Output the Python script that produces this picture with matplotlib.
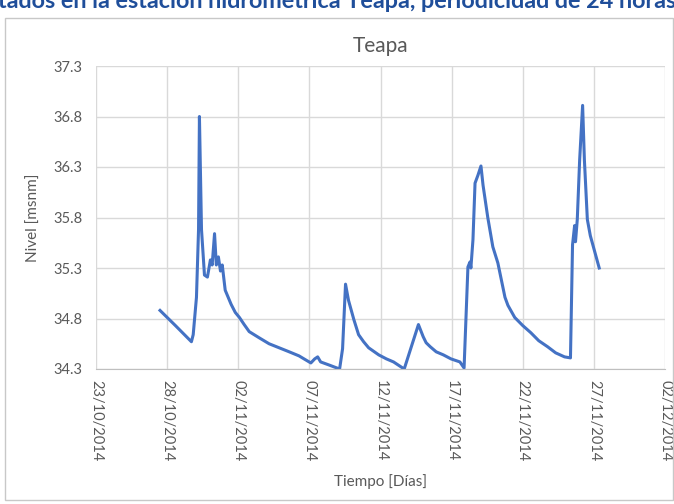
import matplotlib
matplotlib.use("Agg")
import matplotlib.pyplot as plt
import matplotlib.dates as mdates
from matplotlib.patches import Rectangle
import numpy as np
import pandas as pd

plt.rcParams['font.family'] = ['Lato', 'DejaVu Sans']

# Nivel registrado en la estación Teapa
fechas = [
    "2014-10-27 12:00", "2014-10-28 14:00", "2014-10-29 17:00", "2014-10-29 20:00",
    "2014-10-30 01:30", "2014-10-30 05:00", "2014-10-30 06:30", "2014-10-30 10:00",
    "2014-10-30 15:00", "2014-10-30 20:00", "2014-10-31 01:00", "2014-10-31 04:00",
    "2014-10-31 08:00", "2014-10-31 11:00", "2014-10-31 14:30", "2014-10-31 18:00",
    "2014-10-31 21:00", "2014-11-01 02:00", "2014-11-01 12:00", "2014-11-01 19:00",
    "2014-11-02 02:00", "2014-11-02 10:00", "2014-11-02 18:30", "2014-11-03 11:00",
    "2014-11-04 04:00", "2014-11-04 21:00", "2014-11-05 14:00", "2014-11-06 06:30",
    "2014-11-06 15:00", "2014-11-07 02:30", "2014-11-07 09:00", "2014-11-07 14:00",
    "2014-11-07 19:00", "2014-11-08 09:00", "2014-11-09 03:00", "2014-11-09 08:00",
    "2014-11-09 13:00", "2014-11-09 18:00", "2014-11-10 03:00", "2014-11-10 11:00",
    "2014-11-10 19:30", "2014-11-11 04:00", "2014-11-11 21:00", "2014-11-12 10:00",
    "2014-11-12 22:00", "2014-11-13 16:00", "2014-11-14 16:00", "2014-11-15 00:00",
    "2014-11-15 05:00", "2014-11-15 12:00", "2014-11-15 22:00", "2014-11-16 10:00",
    "2014-11-16 23:00", "2014-11-17 14:00", "2014-11-17 21:00", "2014-11-18 03:30",
    "2014-11-18 07:00", "2014-11-18 08:30", "2014-11-18 12:00", "2014-11-18 15:30",
    "2014-11-18 20:30", "2014-11-19 01:30", "2014-11-19 05:00", "2014-11-19 13:00",
    "2014-11-19 21:30", "2014-11-20 06:00", "2014-11-20 18:00", "2014-11-20 23:00",
    "2014-11-21 10:30", "2014-11-22 00:00", "2014-11-22 13:30", "2014-11-23 03:00",
    "2014-11-23 18:00", "2014-11-24 07:30", "2014-11-24 22:30", "2014-11-25 08:30",
    "2014-11-25 12:00", "2014-11-25 15:30", "2014-11-25 17:00", "2014-11-25 20:00",
    "2014-11-26 00:00", "2014-11-26 05:00", "2014-11-26 08:00", "2014-11-26 13:00",
    "2014-11-26 18:00", "2014-11-27 09:00",
]
nivel = [
    34.88, 34.73, 34.57, 34.64,
    35.01, 35.68, 36.80, 35.68,
    35.23, 35.21, 35.38, 35.33,
    35.64, 35.33, 35.41, 35.27,
    35.33, 35.08, 34.94, 34.86,
    34.81, 34.74, 34.67, 34.61,
    34.55, 34.51, 34.47, 34.43,
    34.40, 34.36, 34.40, 34.42,
    34.37, 34.34, 34.30, 34.50,
    35.14, 34.98, 34.79, 34.64,
    34.57, 34.51, 34.44, 34.40,
    34.37, 34.30, 34.74, 34.62,
    34.56, 34.52, 34.47, 34.44,
    34.40, 34.37, 34.31, 35.31,
    35.36, 35.30, 35.58, 36.14,
    36.22, 36.31, 36.12, 35.80,
    35.51, 35.35, 35.01, 34.93,
    34.81, 34.73, 34.66, 34.58,
    34.52, 34.46, 34.42, 34.41,
    35.53, 35.72, 35.56, 35.78,
    36.37, 36.91, 36.37, 35.78,
    35.62, 35.30,
]

x_ticks = pd.date_range("2014-10-23", "2014-12-02", freq="5D")
y_ticks = np.arange(34.3, 37.31, 0.5)

gris = '#595959'

fig = plt.figure(figsize=(6.74, 5.04), dpi=100)

# encabezado del documento (recortado arriba)
fig.text(-2 / 674, 1 - 8 / 504, "tados en la estación hidrométrica Teapa, periodicidad de 24 horas",
         color='#1F4E9A', fontsize=16.8, fontweight='bold', ha='left', va='baseline')

# marco del gráfico
fig.patches.append(Rectangle((5 / 674, 4 / 504), 668 / 674, 482 / 504,
                             transform=fig.transFigure, fill=False,
                             edgecolor='#C8C8C8', linewidth=1.0))

ax = fig.add_axes([96 / 674, 1 - 369 / 504, 569 / 674, 303 / 504])
ax.plot(pd.to_datetime(fechas), nivel, color='#4472C4', linewidth=2.2)

ax.set_xlim(x_ticks[0], x_ticks[-1])
ax.set_ylim(34.3, 37.3)
ax.set_xticks(x_ticks)
ax.set_yticks(y_ticks)
ax.xaxis.set_major_formatter(mdates.DateFormatter('%d/%m/%Y'))
ax.yaxis.set_major_formatter(plt.FuncFormatter(lambda v, p: f"{v:.1f}"))

ax.grid(True, color='#D9D9D9', linewidth=1.0)
ax.set_axisbelow(True)
for s in ['top', 'right', 'left']:
    ax.spines[s].set_visible(False)
ax.spines['bottom'].set_color('#BFBFBF')
ax.tick_params(length=0, colors=gris, labelsize=10.5)
ax.tick_params(axis='x', rotation=-90, pad=8)
ax.tick_params(axis='y', pad=10)

ax.set_title("Teapa", fontsize=15, color=gris, pad=10)
ax.set_ylabel("Nivel [msnm]", fontsize=11, color=gris, labelpad=9)
ax.set_xlabel("Tiempo [Días]", fontsize=11, color=gris, labelpad=9)

fig.savefig("out.png", dpi=100)
